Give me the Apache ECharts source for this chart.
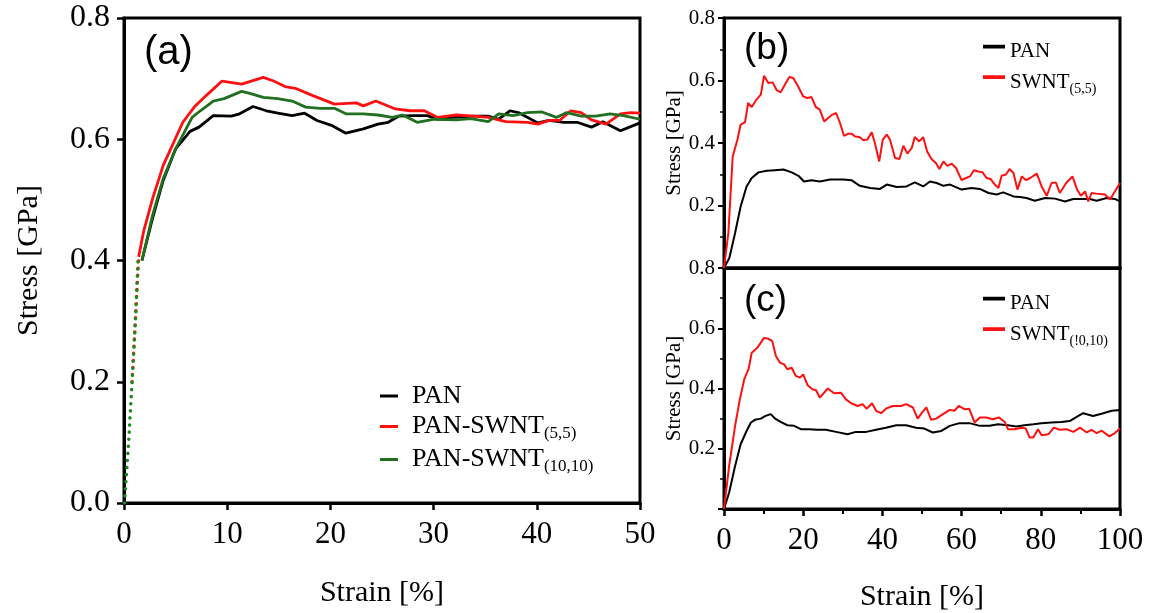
<!DOCTYPE html>
<html>
<head>
<meta charset="utf-8">
<script src="https://cdn.jsdelivr.net/npm/echarts@6/dist/echarts.min.js"></script>
<style>
  html, body { margin: 0; padding: 0; background: #fff; }
  #chart { width: 1151px; height: 613px; }
</style>
</head>
<body>
<div id="chart"></div>
<script>
var chartDom = document.getElementById('chart');
var myChart = echarts.init(chartDom);

// (a) strain [%] vs stress [GPa]
var aDotRed   = [[0.78, 0.2], [1.1, 0.3], [1.42, 0.406]];
var aDotGreen = [[0.05, 0], [0.48, 0.11], [0.78, 0.2], [1.1, 0.3], [1.36, 0.4]];
var aPan = [[1.74,0.4],[2.77,0.47],[3.8,0.532],[5.0,0.584],[6.4,0.613],[7.27,0.62],[8.65,0.639],[10.4,0.638],[11.2,0.642],[12.5,0.654],[13.8,0.647],[14.9,0.643],[16.3,0.639],[17.5,0.643],[18.7,0.631],[20.1,0.623],[21.5,0.61],[23.2,0.617],[24.6,0.625],[25.6,0.628],[26.6,0.638],[28.0,0.639],[29.4,0.639],[30.4,0.633],[31.8,0.636],[33.9,0.638],[35.3,0.638],[36.3,0.633],[37.4,0.647],[38.2,0.644],[40.1,0.627],[41.2,0.631],[42.6,0.628],[43.9,0.628],[45.3,0.62],[46.4,0.629],[48.1,0.614],[50,0.627]];
var aSwnt55 = [[1.42,0.406],[1.9,0.448],[2.77,0.502],[3.8,0.557],[5.7,0.628],[6.9,0.655],[7.96,0.672],[9.5,0.696],[11.4,0.691],[13.5,0.702],[14.5,0.696],[15.6,0.687],[16.6,0.684],[18.3,0.672],[20.4,0.658],[22.5,0.66],[23.2,0.655],[24.4,0.663],[26.3,0.65],[27.7,0.647],[29.1,0.647],[30.4,0.636],[32.2,0.64],[33.9,0.638],[35.3,0.636],[37.0,0.629],[39.1,0.628],[40.1,0.625],[41.2,0.631],[42.2,0.631],[43.3,0.647],[44.3,0.644],[45.3,0.632],[46.7,0.625],[48.1,0.642],[49.1,0.644],[50,0.643]];
var aSwnt1010 = [[1.74,0.4],[2.77,0.475],[3.8,0.535],[5.0,0.584],[6.6,0.636],[7.4,0.647],[8.65,0.663],[9.7,0.667],[11.4,0.679],[12.1,0.676],[13.5,0.669],[14.9,0.667],[16.3,0.663],[17.6,0.653],[19.0,0.651],[20.4,0.651],[21.5,0.642],[23.2,0.642],[24.6,0.64],[26.0,0.636],[27.0,0.64],[28.4,0.628],[30.1,0.633],[32.2,0.632],[33.6,0.634],[35.3,0.629],[36.3,0.642],[37.7,0.639],[39.1,0.644],[40.5,0.645],[41.9,0.636],[42.9,0.644],[44.3,0.638],[45.7,0.638],[47.1,0.642],[48.4,0.639],[50,0.633]];

// (b)
var bPan = [[0,0],[1.35,0.032],[2.8,0.112],[4.2,0.197],[5.7,0.261],[7.0,0.288],[8.7,0.306],[10.8,0.311],[12.9,0.313],[15.0,0.315],[17.1,0.306],[18.8,0.295],[20.2,0.277],[22.1,0.281],[24.2,0.277],[26.8,0.283],[30.1,0.283],[32.2,0.281],[34.3,0.263],[36.9,0.256],[39.4,0.253],[41.1,0.267],[43.6,0.259],[46.1,0.261],[48.2,0.274],[50.3,0.261],[52.0,0.277],[53.7,0.272],[55.4,0.263],[57.1,0.267],[60.0,0.251],[62.5,0.256],[64.6,0.253],[66.8,0.24],[68.9,0.235],[70.5,0.242],[73.1,0.229],[74.7,0.227],[76.4,0.224],[78.5,0.215],[81.1,0.224],[83.6,0.222],[86.1,0.213],[88.2,0.221],[90.3,0.221],[92.4,0.221],[94.1,0.215],[96.6,0.224],[98.7,0.221],[100,0.213]];
var bSwnt = [[0,0],[1.1,0.112],[2.2,0.357],[3.4,0.411],[4.2,0.459],[5.3,0.466],[6.1,0.528],[7.0,0.515],[8.2,0.539],[9.3,0.555],[10.1,0.615],[11.2,0.592],[12.3,0.594],[13.3,0.569],[14.3,0.562],[15.4,0.587],[16.5,0.611],[17.5,0.608],[18.8,0.579],[20.0,0.549],[21.0,0.544],[22.1,0.547],[23.2,0.515],[24.2,0.507],[25.3,0.469],[26.3,0.48],[27.4,0.491],[28.3,0.496],[29.3,0.464],[30.3,0.423],[31.4,0.43],[32.2,0.43],[33.1,0.421],[34.2,0.419],[35.2,0.409],[36.2,0.411],[37.3,0.434],[38.1,0.4],[39.2,0.341],[40.1,0.411],[41.1,0.427],[41.9,0.411],[43.2,0.352],[44.3,0.349],[45.3,0.391],[46.3,0.366],[47.4,0.384],[48.2,0.419],[49.3,0.405],[50.3,0.419],[51.3,0.373],[52.4,0.349],[53.5,0.336],[54.4,0.317],[55.4,0.341],[56.4,0.327],[57.5,0.334],[58.6,0.32],[60.0,0.281],[61.1,0.288],[62.1,0.293],[63.1,0.313],[64.2,0.309],[65.3,0.306],[66.3,0.288],[67.3,0.285],[68.4,0.267],[69.3,0.256],[70.1,0.295],[71.2,0.299],[72.1,0.317],[73.1,0.304],[74.1,0.251],[75.2,0.293],[76.3,0.281],[77.3,0.288],[79.0,0.302],[80.2,0.261],[81.5,0.231],[82.7,0.272],[83.8,0.274],[84.8,0.24],[86.4,0.272],[88.0,0.293],[89.1,0.253],[90.1,0.231],[91.2,0.245],[92.0,0.213],[92.8,0.24],[94.1,0.238],[96.2,0.235],[97.5,0.219],[98.7,0.245],[100,0.272]];

// (c)
var cPan = [[0,0],[1.3,0.055],[2.8,0.143],[4.2,0.215],[5.7,0.259],[6.8,0.287],[7.8,0.296],[9.3,0.3],[10.5,0.309],[11.8,0.315],[12.9,0.3],[14.3,0.289],[16.0,0.278],[17.7,0.276],[19.4,0.265],[21.5,0.265],[23.6,0.263],[25.7,0.263],[28.3,0.256],[31.2,0.248],[33.3,0.256],[35.9,0.256],[38.4,0.263],[40.9,0.27],[43.5,0.278],[46.0,0.278],[48.5,0.27],[50.6,0.267],[52.7,0.254],[54.9,0.259],[57.0,0.276],[59.5,0.285],[62.0,0.285],[64.6,0.276],[67.1,0.276],[69.2,0.281],[71.7,0.278],[73.8,0.274],[75.9,0.278],[78.1,0.281],[80.2,0.285],[82.7,0.287],[85.2,0.289],[87.3,0.292],[89.5,0.309],[90.7,0.318],[93.2,0.309],[95.8,0.318],[97.9,0.326],[100,0.329]];
var cSwnt = [[0,0],[1.3,0.143],[2.8,0.276],[4.0,0.364],[5.1,0.43],[6.2,0.464],[7.0,0.519],[8.4,0.535],[10.1,0.568],[11.2,0.565],[12.2,0.557],[13.1,0.508],[14.1,0.486],[15.2,0.48],[16.0,0.464],[17.1,0.469],[18.1,0.442],[19.2,0.436],[20.0,0.447],[21.1,0.411],[22.4,0.397],[23.2,0.395],[24.2,0.37],[26.2,0.4],[27.8,0.384],[29.5,0.386],[30.8,0.364],[32.1,0.351],[33.8,0.342],[35.0,0.348],[36.0,0.333],[37.4,0.351],[38.4,0.326],[39.7,0.318],[40.9,0.333],[42.6,0.342],[44.7,0.342],[46.0,0.348],[47.7,0.337],[48.9,0.3],[50.0,0.32],[51.1,0.337],[52.3,0.296],[53.6,0.3],[55.3,0.315],[57.0,0.329],[58.2,0.326],[59.3,0.342],[60.8,0.331],[61.9,0.333],[63.3,0.287],[64.6,0.304],[66.2,0.304],[67.9,0.298],[69.4,0.304],[70.9,0.289],[71.7,0.265],[73.4,0.265],[75.1,0.27],[76.2,0.267],[77.2,0.237],[78.1,0.237],[79.3,0.265],[80.2,0.245],[81.9,0.248],[83.3,0.27],[84.8,0.263],[86.5,0.265],[88.2,0.256],[89.9,0.27],[91.6,0.254],[92.8,0.263],[94.1,0.252],[95.4,0.26],[97.3,0.241],[98.7,0.252],[100,0.267]];

var serif = 'Liberation Serif';
var sans = 'Liberation Sans';
var RED = '#ff1010';
var GREEN = '#207020';
var BLACK = '#000';
// 图例线段靠上 (b)(c)
var topBar = 'path://M0,0h18v3h-18z M0,11h0.1v0.01h-0.1z';

// 下标格式: 括号部分做成下标
function legendFmt(name) {
    var m = name.match(/^(.*?)(\(.*\))$/);
    return m ? '{n|' + m[1] + '}{s|' + m[2] + '}' : '{n|' + name + '}';
}
function legendRich(size, sub, lh) {
    return {
        n: { fontFamily: serif, fontSize: size, lineHeight: lh, color: '#000' },
        s: { fontFamily: serif, fontSize: sub, lineHeight: lh - 14, padding: [14, 0, 0, 0], color: '#000' }
    };
}

function xAx(grid, max, interval, opts) {
    return Object.assign({
        type: 'value', gridIndex: grid, min: 0, max: max, interval: interval,
        axisLine: { show: true, onZero: false, lineStyle: { color: '#000', width: 3 } },
        axisTick: { show: true, inside: false, length: 7, lineStyle: { color: '#000', width: 2.5 } },
        axisLabel: { color: '#000', fontFamily: serif, fontSize: 31, margin: 16 },
        splitLine: { show: false },
        nameLocation: 'middle',
        nameTextStyle: { color: '#000', fontFamily: serif, fontSize: 30 }
    }, opts);
}
function yAx(grid, opts) {
    return Object.assign({
        type: 'value', gridIndex: grid, min: 0, max: 0.8, interval: 0.2,
        axisLine: { show: true, onZero: false, lineStyle: { color: '#000', width: 3 } },
        axisTick: { show: true, inside: false, length: 7, lineStyle: { color: '#000', width: 2.5 } },
        splitLine: { show: false },
        nameLocation: 'middle',
        name: 'Stress [GPa]'
    }, opts);
}
function line(name, data, color, x, width, extra) {
    return Object.assign({
        name: name, type: 'line', data: data, xAxisIndex: x, yAxisIndex: x,
        showSymbol: false, symbol: 'none', smooth: false,
        lineStyle: { color: color, width: width },
        itemStyle: { color: color }
    }, extra || {});
}

var option = {
    animation: false,
    backgroundColor: '#fff',
    grid: [
        { left: 124, top: 18, width: 516, height: 490, show: true, borderColor: '#000', borderWidth: 3 },
        { left: 724, top: 18, width: 396, height: 250, show: true, borderColor: '#000', borderWidth: 3 },
        { left: 724, top: 268, width: 396, height: 242, show: true, borderColor: '#000', borderWidth: 3 }
    ],
    xAxis: [
        xAx(0, 50, 10, { name: 'Strain [%]', nameGap: 75 }),
        xAx(1, 100, 20, { axisTick: { show: false }, axisLabel: { show: false } }),
        xAx(2, 100, 20, {
            name: 'Strain [%]', nameGap: 73,
            minorTick: { show: true, splitNumber: 2, length: 5, lineStyle: { color: '#000', width: 2 } }
        })
    ],
    yAxis: [
        yAx(0, {
            nameGap: 80,
            nameTextStyle: { color: '#000', fontFamily: serif, fontSize: 30 },
            axisLabel: { color: '#000', fontFamily: serif, fontSize: 32, margin: 14,
                formatter: function (v) { return v.toFixed(1); } }
        }),
        yAx(1, {
            nameGap: 38,
            nameTextStyle: { color: '#000', fontFamily: serif, fontSize: 21 },
            axisTick: { show: true, length: 6, lineStyle: { color: '#000', width: 2 } },
            minorTick: { show: true, splitNumber: 2, length: 4, lineStyle: { color: '#000', width: 1.5 } },
            axisLabel: { color: '#000', fontFamily: serif, fontSize: 21, margin: 9,
                formatter: function (v) { return v === 0 ? '' : v.toFixed(1); } }
        }),
        yAx(2, {
            nameGap: 38,
            nameTextStyle: { color: '#000', fontFamily: serif, fontSize: 21 },
            axisTick: { show: true, length: 6, lineStyle: { color: '#000', width: 2 } },
            minorTick: { show: true, splitNumber: 2, length: 4, lineStyle: { color: '#000', width: 1.5 } },
            axisLabel: { color: '#000', fontFamily: serif, fontSize: 21, margin: 9,
                formatter: function (v) { return v === 0 ? '' : v.toFixed(1); } }
        })
    ],
    legend: [
        {
            data: ['PAN', 'PAN-SWNT(5,5)', 'PAN-SWNT(10,10)'],
            orient: 'vertical', left: 375, top: 378, itemGap: 2,
            icon: 'rect', itemWidth: 18, itemHeight: 3,
            selectedMode: false,
            formatter: legendFmt,
            textStyle: { padding: [0, 0, 0, 9], rich: legendRich(26, 17, 30) }
        },
        {
            data: ['PAN', 'SWNT(5,5)'],
            orient: 'vertical', left: 978, top: 36, itemGap: 6,
            icon: topBar, itemWidth: 22, itemHeight: 14,
            selectedMode: false,
            formatter: legendFmt,
            textStyle: { padding: [0, 0, 0, 0], rich: legendRich(21, 14, 28) }
        },
        {
            data: ['PAN', 'SWNT(!0,10)'],
            orient: 'vertical', left: 978, top: 288, itemGap: 6,
            icon: topBar, itemWidth: 22, itemHeight: 14,
            selectedMode: false,
            formatter: legendFmt,
            textStyle: { padding: [0, 0, 0, 0], rich: legendRich(21, 14, 28) }
        }
    ],
    graphic: [
        { type: 'text', left: 144, top: 33, style: { text: '(a)', fontFamily: sans, fontSize: 40, fill: '#000' } },
        { type: 'text', left: 744, top: 30, style: { text: '(b)', fontFamily: sans, fontSize: 37, fill: '#000' } },
        { type: 'text', left: 744, top: 282, style: { text: '(c)', fontFamily: sans, fontSize: 37, fill: '#000' } }
    ],
    series: [
        line('dotRed', aDotRed, RED, 0, 3.5, { lineStyle: { color: RED, width: 3.5, type: [0.1, 7], cap: 'round' } }),
        line('dotGreen', aDotGreen, GREEN, 0, 3.5, { lineStyle: { color: '#1a8a1a', width: 3.5, type: [0.1, 7], cap: 'round' } }),
        line('PAN', aPan, BLACK, 0, 2.8),
        line('PAN-SWNT(5,5)', aSwnt55, RED, 0, 2.8),
        line('PAN-SWNT(10,10)', aSwnt1010, GREEN, 0, 2.8),
        line('PAN', bPan, BLACK, 1, 2),
        line('SWNT(5,5)', bSwnt, RED, 1, 2),
        line('PAN', cPan, BLACK, 2, 2),
        line('SWNT(!0,10)', cSwnt, RED, 2, 2)
    ]
};
myChart.setOption(option);
window.addEventListener('resize', function () {
    myChart.resize();
});
</script>
</body>
</html>
